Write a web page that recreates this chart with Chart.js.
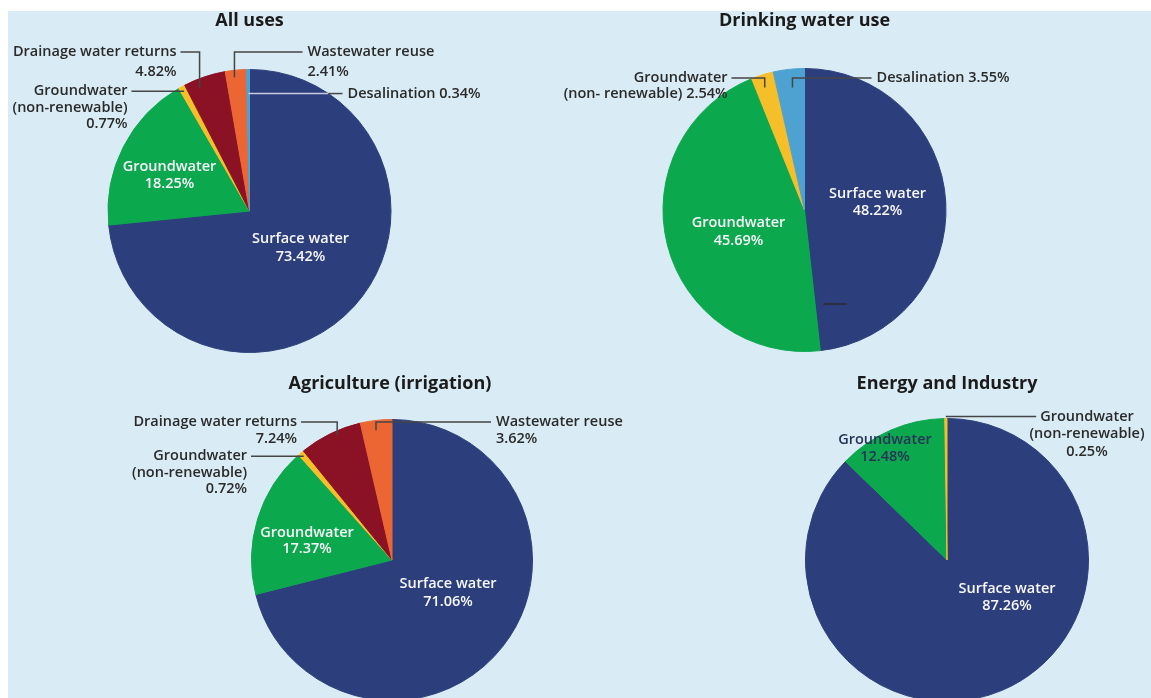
<!DOCTYPE html>
<html>
<head>
<meta charset="utf-8">
<script src="https://cdn.jsdelivr.net/npm/chart.js@4.4.1/dist/chart.umd.min.js"></script>
<style>
  html, body { margin: 0; padding: 0; background: #ffffff; overflow: hidden; }
  body { width: 1151px; height: 698px; position: relative; }
  #panel { position: absolute; left: 8px; top: 11px; right: 0; bottom: 0; background: #d9ebf4; }
  canvas { position: absolute; }
</style>
</head>
<body>
<div id="panel"></div>
<canvas id="allUses"></canvas>
<canvas id="drinking"></canvas>
<canvas id="agriculture"></canvas>
<canvas id="energy"></canvas>

<script>
// Water sources, in the order the slices run clockwise from 12 o'clock
const sourceNames = ["Surface water", "Groundwater", "Groundwater (non-renewable)",
  "Drainage water returns", "Wastewater reuse", "Desalination"];

// Shares (%) per use; 0 = source not used in that sector
const allUses        = [73.42, 18.25, 0.77, 4.82, 2.41, 0.34];
const drinkingWater  = [48.22, 45.69, 2.54, 0, 0, 3.55];
const agriculture    = [71.06, 17.37, 0.72, 7.24, 3.62, 0];
const energyIndustry = [87.26, 12.48, 0.25, 0, 0, 0];

const chartTitles = ["All uses", "Drinking water use", "Agriculture (irrigation)", "Energy and Industry"];

const sourceColors = ["#2c3f7c", "#0ba84e", "#f6be28", "#8b1125", "#ec6634", "#4da2d2"];

const FONT = '"Open Sans", "Noto Sans", sans-serif';
const LINE = "#454545";
const TEXT = "#2a2a2a";

const pct = v => v.toFixed(2) + "%";

// callouts: slice index i, t = position along slice angle, f = fraction of radius,
// kind "v" (up then across) or "h" (straight across); dx/dy are text offsets from pie centre
function makeCallouts(spec) {
  return {
    id: "callouts",
    afterDraw(chart) {
      const ctx = chart.ctx;
      const arcs = chart.getDatasetMeta(0).data;
      const values = chart.data.datasets[0].data;
      const cx = arcs[0].x, cy = arcs[0].y, R = arcs[0].outerRadius;
      ctx.save();
      ctx.textBaseline = "middle";

      ctx.font = "700 18px " + FONT;
      ctx.fillStyle = "#1b1b1b";
      ctx.textAlign = "center";
      ctx.fillText(spec.title, cx + (spec.titleDx || 0), cy + spec.titleDy);

      spec.inner.forEach(lab => {
        ctx.font = "600 14.5px " + FONT;
        ctx.fillStyle = lab.color || "#f8f8fb";
        ctx.textAlign = "center";
        ctx.fillText(sourceNames[lab.i].replace(/ \(.*\)/, ""), cx + lab.dx, cy + lab.dy);
        ctx.fillText(pct(values[lab.i]), cx + lab.dx, cy + lab.dy + (lab.lh || 17));
      });

      spec.outer.forEach(lab => {
        const arc = arcs[lab.i];
        const a = arc.startAngle + lab.t * (arc.endAngle - arc.startAngle);
        const ax = cx + Math.cos(a) * lab.f * R;
        const ay = cy + Math.sin(a) * lab.f * R;
        const tx = cx + lab.dx;
        const ty = lab.kind === "h" ? ay : cy + lab.dy;
        const lines = lab.lines.map(s => s.replace("{v}", pct(values[lab.i])));

        ctx.font = "600 14.5px " + FONT;
        const w0 = ctx.measureText(lines[0]).width;
        let endX;
        if (lab.align === "right") endX = tx + 4;
        else if (lab.align === "left") endX = tx - 5;
        else endX = tx - w0 / 2 - 4;

        ctx.lineWidth = 1.5;
        ctx.strokeStyle = LINE;
        if (lab.lightInside) {
          const edge = cx + Math.sqrt(R * R - (ay - cy) * (ay - cy));
          ctx.strokeStyle = "#c6cbe0";
          ctx.beginPath(); ctx.moveTo(ax, ay); ctx.lineTo(edge, ay); ctx.stroke();
          ctx.strokeStyle = LINE;
          ctx.beginPath(); ctx.moveTo(edge, ay); ctx.lineTo(endX, ay); ctx.stroke();
        } else {
          ctx.beginPath();
          ctx.moveTo(ax, ay);
          if (lab.kind === "v") ctx.lineTo(ax, ty);
          ctx.lineTo(endX, ty);
          ctx.stroke();
        }

        ctx.fillStyle = TEXT;
        ctx.textAlign = lab.align;
        lines.forEach((s, k) => ctx.fillText(s, tx, ty + k * (lab.lh || 17)));
      });

      if (spec.dash) {
        ctx.strokeStyle = "#2a2a2a";
        ctx.lineWidth = 1.5;
        ctx.beginPath();
        ctx.moveTo(cx + spec.dash[0], cy + spec.dash[2]);
        ctx.lineTo(cx + spec.dash[1], cy + spec.dash[2]);
        ctx.stroke();
      }
      ctx.restore();
    }
  };
}

function drawPie(id, values, box, pad, spec) {
  const canvas = document.getElementById(id);
  canvas.width = box.w; canvas.height = box.h;
  canvas.style.left = box.x + "px"; canvas.style.top = box.y + "px";
  return new Chart(canvas.getContext("2d"), {
    type: "pie",
    data: {
      labels: sourceNames,
      datasets: [{
        data: values,
        backgroundColor: sourceColors,
        borderColor: sourceColors,
        borderWidth: 1,
        hoverOffset: 0
      }]
    },
    options: {
      responsive: false,
      animation: false,
      devicePixelRatio: 1,
      events: [],
      layout: { padding: pad },
      plugins: { legend: { display: false }, tooltip: { enabled: false } }
    },
    plugins: [makeCallouts(spec)]
  });
}

drawPie("allUses", allUses,
  { x: 8, y: 11, w: 567, h: 349 },
  { left: 99, top: 58, right: 183, bottom: 7 },
  {
    title: chartTitles[0], titleDy: -190,
    inner: [{ i: 0, dx: 51, dy: 28, lh: 18 }, { i: 1, dx: -80, dy: -44 }],
    outer: [
      { i: 3, kind: "v", t: 0.3, f: 0.94, dx: -73, dy: -159, align: "right", lh: 20, lines: ["Drainage water returns", "{v}"] },
      { i: 2, kind: "h", t: 0.5, f: 0.965, dx: -122, align: "right", lh: 16.5, lines: ["Groundwater", "(non-renewable)", "{v}"] },
      { i: 4, kind: "v", t: 0.4, f: 0.95, dx: 58, dy: -159, align: "left", lh: 20, lines: ["Wastewater reuse", "{v}"] },
      { i: 5, kind: "h", t: 0.5, f: 0.83, dx: 98, align: "left", lightInside: true, lines: ["Desalination {v}"] }
    ]
  });

drawPie("drinking", drinkingWater,
  { x: 560, y: 11, w: 591, h: 349 },
  { left: 102, top: 57, right: 204, bottom: 8 },
  {
    title: chartTitles[1], titleDy: -189,
    inner: [{ i: 0, dx: 73, dy: -16 }, { i: 1, dx: -66, dy: 13, lh: 18 }],
    outer: [
      { i: 2, kind: "v", t: 0.43, f: 0.91, dx: -77, dy: -132, align: "right", lh: 16, lines: ["Groundwater", "(non- renewable) {v}"] },
      { i: 5, kind: "v", t: 0.56, f: 0.87, dx: 72, dy: -132, align: "left", lines: ["Desalination {v}"] }
    ],
    dash: [19, 42, 94]
  });

drawPie("agriculture", agriculture,
  { x: 8, y: 360, w: 700, h: 360 },
  { left: 243, top: 59, right: 175, bottom: 19 },
  {
    title: chartTitles[2], titleDx: -2, titleDy: -176,
    inner: [{ i: 1, dx: -85, dy: -27, lh: 16 }, { i: 0, dx: 56, dy: 24, lh: 18 }],
    outer: [
      { i: 3, kind: "v", t: 0.59, f: 0.97, dx: -95, dy: -138, align: "right", lines: ["Drainage water returns", "{v}"] },
      { i: 2, kind: "h", t: 0.5, f: 0.97, dx: -145, align: "right", lh: 16.5, lines: ["Groundwater", "(non-renewable)", "{v}"] },
      { i: 4, kind: "v", t: 0.46, f: 0.93, dx: 104, dy: -138, align: "left", lines: ["Wastewater reuse", "{v}"] }
    ]
  });

drawPie("energy", energyIndustry,
  { x: 708, y: 360, w: 443, h: 360 },
  { left: 97, top: 58, right: 62, bottom: 18 },
  {
    title: chartTitles[3], titleDy: -176,
    inner: [{ i: 1, dx: -62, dy: -120, color: "#27325a" }, { i: 0, dx: 60, dy: 29 }],
    outer: [
      { i: 2, kind: "h", t: 0.5, f: 1.015, dx: 140, align: "center", lh: 17.5, lines: ["Groundwater", "(non-renewable)", "{v}"] }
    ]
  });
</script>
</body>
</html>
